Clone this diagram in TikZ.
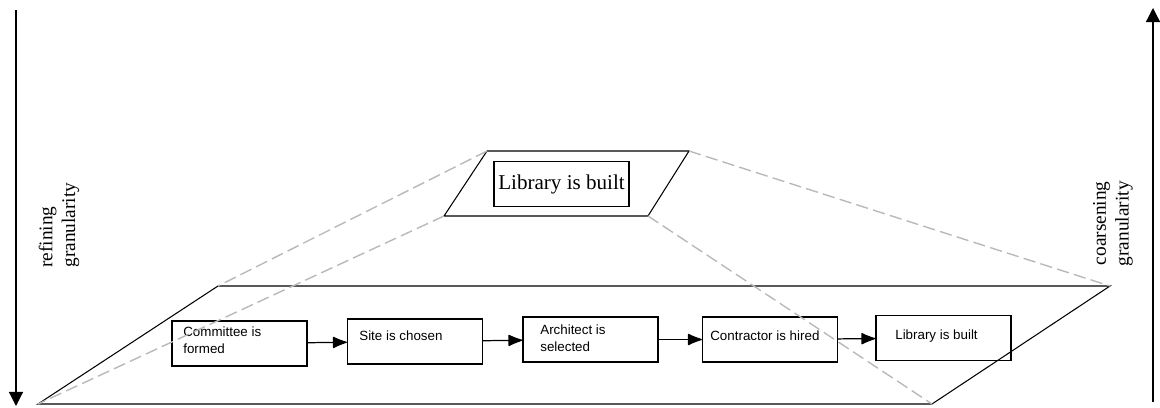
\documentclass[tikz,border=0pt]{standalone}
\usepackage{fontspec}
\setmainfont{Liberation Serif}
\newfontfamily\boxfont{Liberation Sans}
\usepackage{tikz}
\usetikzlibrary{arrows.meta}
\usetikzlibrary{positioning}
\tikzset{>=latex}
\tikzstyle{stepbox} = [rectangle, draw, line width=0.7pt, minimum width=2.7cm, minimum height=0.9cm, inner sep=0]
\tikzstyle{steptext} = [draw=none, inner sep=0, anchor=west, align=left, font=\boxfont\fontsize{7.6}{9.5}\selectfont]
\tikzstyle{proj} = [-, dash pattern=on 7pt off 3pt, draw=gray!55, line width=0.8pt]
\tikzstyle{flow} = [-{Latex[length=9pt, width=7pt, round]}, line width=0.7pt]
\tikzstyle{axis} = [-{Triangle[length=8pt, width=8pt]}, line width=0.7pt]
\tikzstyle{side} = [draw=none, inner sep=0, rotate=90, font=\fontsize{11}{13}\selectfont]

\begin{document}
\begin{tikzpicture}[x=0.02cm, y=-0.02cm]
\useasboundingbox (0,0) rectangle (1160,408);

% coarse level
\coordinate (T1) at (487,151);
\coordinate (T2) at (689,151);
\coordinate (T3) at (648,216);
\coordinate (T4) at (444,216);
\draw [line width=0.6pt] (T1) -- (T2) -- (T3) -- (T4) -- cycle;
\node [stepbox, font=\fontsize{12}{14}\selectfont] (top) at (561.5,184) {Library is built};

% fine level
\coordinate (P1) at (218,286);
\coordinate (P2) at (1110,286);
\coordinate (P3) at (932,404);
\coordinate (P4) at (38,404);
\draw [line width=0.6pt] (P1) -- (P2) -- (P3) -- (P4) -- cycle;

\node [stepbox] (s1) at (239.5,343.5) {};
\node [stepbox] (s2) at (415,341.5) {};
\node [stepbox] (s3) at (590.5,339.5) {};
\node [stepbox] (s4) at (770,339.5) {};
\node [stepbox] (s5) at (943.5,338) {};

\node [steptext] (t1) at (183,340) {Committee is\\formed};
\node [steptext] (t2) at (359,336) {Site is chosen};
\node [steptext] (t3) at (540,338.5) {Architect is\\selected};
\node [steptext] (t4) at (710,335.5) {Contractor is hired};
\node [steptext] (t5) at (895,336) {Library is built};

\draw [flow] (s1) -- (s2);
\draw [flow] (s2) -- (s3);
\draw [flow] (s3) -- (s4);
\draw [flow] (s4) -- (s5);

% projections
\draw [proj] (T1) -- (P1);
\draw [proj] (T4) -- (P4);
\draw [proj] (T2) -- (P2);
\draw [proj] (T3) -- (P3);

% granularity axes
\coordinate (L1) at (16,10);
\coordinate (L2) at (16,406);
\draw [axis] (L1) -- (L2);
\coordinate (R1) at (1153,402);
\coordinate (R2) at (1153,8);
\draw [axis] (R1) -- (R2);

\node [side, anchor=west, align=left] (refine) at (59,268) {refining\\granularity};
\node [side, anchor=east, align=right] (coarsen) at (1113,181) {coarsening\\granularity};
\end{tikzpicture}
\end{document}
